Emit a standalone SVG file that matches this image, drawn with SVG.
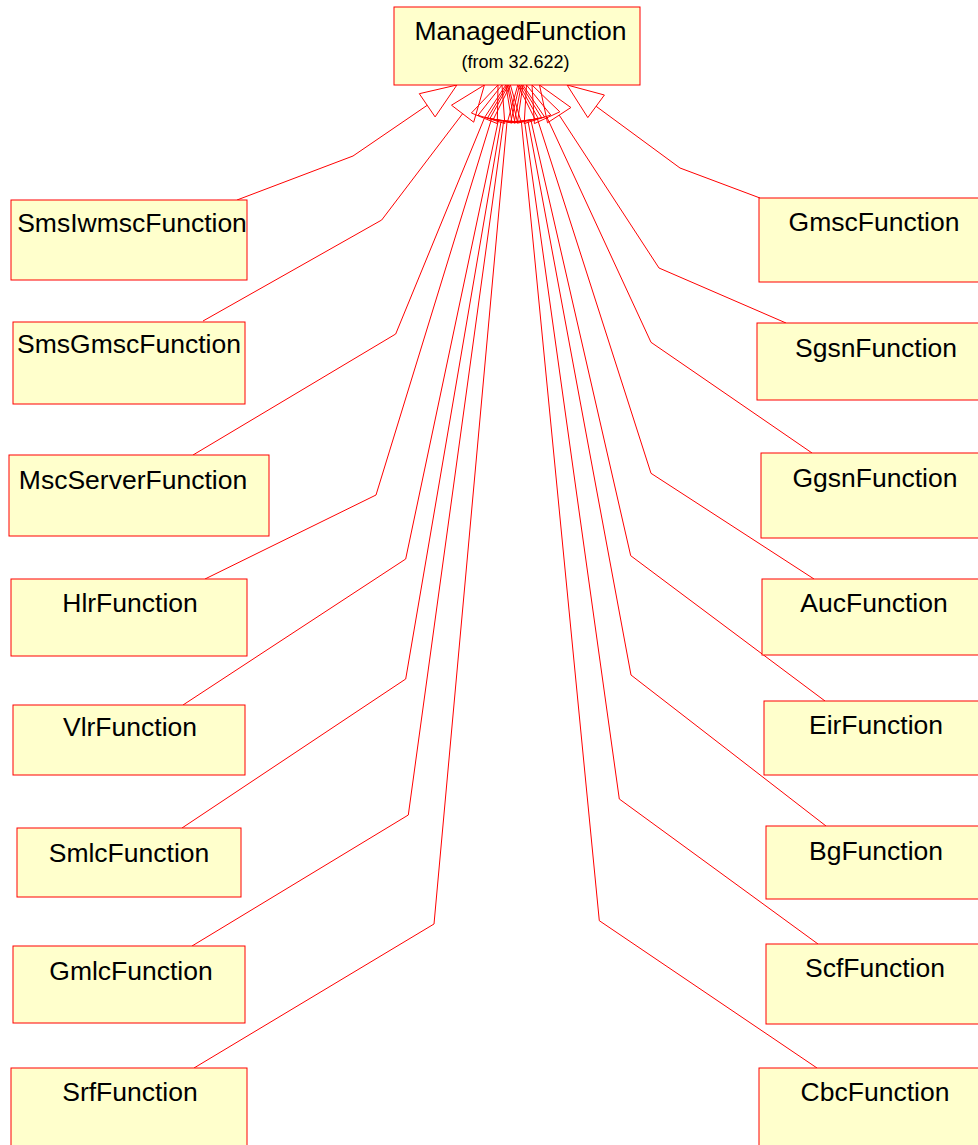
<svg xmlns="http://www.w3.org/2000/svg" width="978" height="1145" viewBox="0 0 978 1145">
  <style>
    .box { fill: #ffffcc; stroke: #ff0000; stroke-width: 1; }
    .lbl { font-family: "Liberation Sans", Arial, sans-serif; font-size: 26.5px; fill: #000; text-anchor: middle; }
    .sub { font-family: "Liberation Sans", Arial, sans-serif; font-size: 18px; fill: #000; text-anchor: middle; }
    .gen { fill: none; stroke: #ff0000; stroke-width: 1; }
    .tri { fill: none; stroke: #ff0000; stroke-width: 1; stroke-linejoin: miter; }
  </style>

  <!-- generalization connectors: child -> bend -> hollow triangle on ManagedFunction -->
  <g id="connectors">
    <polyline class="gen" points="237,200 353,156 427.2,105.3"/>
    <polygon class="tri" points="456.9,85 435.1,116.9 419.3,93.7"/>
    <polyline class="gen" points="203,321 381.7,220 462.6,113.7"/>
    <polygon class="tri" points="484.4,85 473.7,122.2 451.5,105.2"/>
    <polyline class="gen" points="193,455 395.7,334 484.3,118.3"/>
    <polygon class="tri" points="498,85 497.3,123.6 471.4,113"/>
    <polyline class="gen" points="205,579 376,495 491.4,119.4"/>
    <polygon class="tri" points="502,85 504.8,123.5 478,115.3"/>
    <polyline class="gen" points="183,705 405.7,559 498.4,120.2"/>
    <polygon class="tri" points="505.8,85 512.1,123.1 484.7,117.3"/>
    <polyline class="gen" points="182,828 405.7,679 501.2,120.5"/>
    <polygon class="tri" points="507.3,85 515,122.9 487.4,118.1"/>
    <polyline class="gen" points="192,946 408.3,815 503.7,120.7"/>
    <polygon class="tri" points="508.6,85 517.6,122.6 489.8,118.8"/>
    <polyline class="gen" points="194,1068 434,924 507.1,120.9"/>
    <polygon class="tri" points="510.4,85 521.1,122.1 493.2,119.6"/>

    <polyline class="gen" points="760,198 680,168 596.1,106.3"/>
    <polygon class="tri" points="567.1,85 604.4,95 587.8,117.6"/>
    <polyline class="gen" points="786,323 659,268 559.2,115.1"/>
    <polygon class="tri" points="539.5,85 570.9,107.5 547.5,122.8"/>
    <polyline class="gen" points="812,453 651,342.3 547.1,117.7"/>
    <polygon class="tri" points="532,85 559.8,111.8 534.4,123.6"/>
    <polyline class="gen" points="814,579 651,473.3 537.5,119.3"/>
    <polygon class="tri" points="526.5,85 550.8,115 524.2,123.6"/>
    <polyline class="gen" points="825,701 630.7,555.7 530.9,120.1"/>
    <polygon class="tri" points="522.9,85 544.6,117 517.3,123.2"/>
    <polyline class="gen" points="826,826 631,675 527.9,120.4"/>
    <polygon class="tri" points="521.3,85 541.7,117.8 514.1,123"/>
    <polyline class="gen" points="818,944 619.3,799 524.5,120.7"/>
    <polygon class="tri" points="519.5,85 538.4,118.7 510.6,122.6"/>
    <polyline class="gen" points="817,1068 599.3,920.7 521.3,120.8"/>
    <polygon class="tri" points="517.8,85 535.2,119.5 507.4,122.2"/>
  </g>

  <!-- parent class -->
  <g id="ManagedFunction">
    <rect class="box" x="394" y="7" width="246" height="78"/>
    <text class="lbl" x="520.5" y="40">ManagedFunction</text>
    <text class="sub" x="515.5" y="68">(from 32.622)</text>
  </g>

  <!-- left column -->
  <g id="SmsIwmscFunction">
    <rect class="box" x="11" y="200" width="236" height="80"/>
    <text class="lbl" x="132" y="232">SmsIwmscFunction</text>
  </g>
  <g id="SmsGmscFunction">
    <rect class="box" x="13" y="322" width="232" height="82"/>
    <text class="lbl" x="129" y="353">SmsGmscFunction</text>
  </g>
  <g id="MscServerFunction">
    <rect class="box" x="9" y="455" width="260" height="81"/>
    <text class="lbl" x="133" y="489">MscServerFunction</text>
  </g>
  <g id="HlrFunction">
    <rect class="box" x="11" y="579" width="236" height="77"/>
    <text class="lbl" x="130" y="612">HlrFunction</text>
  </g>
  <g id="VlrFunction">
    <rect class="box" x="13" y="705" width="232" height="70"/>
    <text class="lbl" x="130" y="736">VlrFunction</text>
  </g>
  <g id="SmlcFunction">
    <rect class="box" x="17" y="828" width="224" height="69"/>
    <text class="lbl" x="129" y="862">SmlcFunction</text>
  </g>
  <g id="GmlcFunction">
    <rect class="box" x="13" y="946" width="232" height="77"/>
    <text class="lbl" x="131" y="980">GmlcFunction</text>
  </g>
  <g id="SrfFunction">
    <rect class="box" x="11" y="1068" width="236" height="90"/>
    <text class="lbl" x="130" y="1101">SrfFunction</text>
  </g>

  <!-- right column -->
  <g id="GmscFunction">
    <rect class="box" x="759" y="198" width="240" height="84"/>
    <text class="lbl" x="874" y="231">GmscFunction</text>
  </g>
  <g id="SgsnFunction">
    <rect class="box" x="757" y="323" width="240" height="77"/>
    <text class="lbl" x="876" y="357">SgsnFunction</text>
  </g>
  <g id="GgsnFunction">
    <rect class="box" x="761" y="453" width="240" height="85"/>
    <text class="lbl" x="875" y="487">GgsnFunction</text>
  </g>
  <g id="AucFunction">
    <rect class="box" x="762" y="579" width="240" height="76"/>
    <text class="lbl" x="874" y="612">AucFunction</text>
  </g>
  <g id="EirFunction">
    <rect class="box" x="764" y="701" width="240" height="74"/>
    <text class="lbl" x="876" y="734">EirFunction</text>
  </g>
  <g id="BgFunction">
    <rect class="box" x="766" y="826" width="240" height="73"/>
    <text class="lbl" x="876" y="860">BgFunction</text>
  </g>
  <g id="ScfFunction">
    <rect class="box" x="766" y="944" width="240" height="80"/>
    <text class="lbl" x="875" y="977">ScfFunction</text>
  </g>
  <g id="CbcFunction">
    <rect class="box" x="759" y="1068" width="240" height="90"/>
    <text class="lbl" x="875" y="1101">CbcFunction</text>
  </g>
</svg>
